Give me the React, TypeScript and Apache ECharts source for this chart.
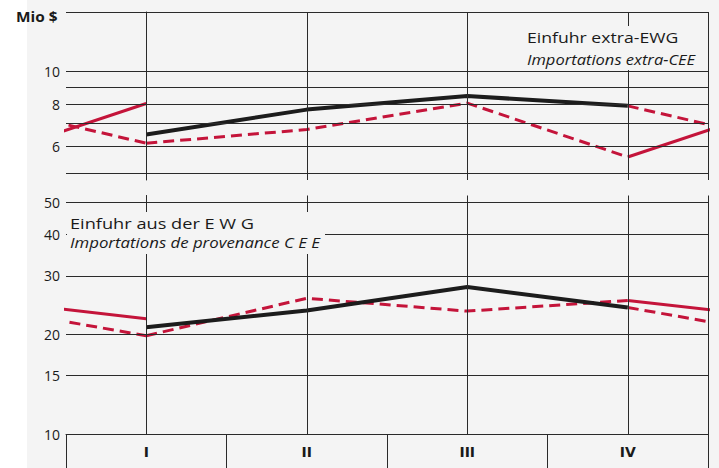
import React, { useEffect, useRef } from "react";
import * as echarts from "echarts";

// Quarter labels
const QUARTERS = ["I", "II", "III", "IV"];
// Upper panel: Einfuhr extra-EWG (Mio $), log scale
const TOP_YEAR1 = [6.5, 7.7, 8.45, 7.9]; // black solid
const TOP_YEAR2 = [6.12, 6.72, 8.05, 5.57]; // red dashed
const TOP_YEAR3 = [8.03]; // red solid (Q1 only)
// Lower panel: Einfuhr aus der EWG (Mio $), log scale
const BOTTOM_YEAR1 = [21.0, 23.6, 27.8, 24.1];
const BOTTOM_YEAR2 = [19.8, 25.7, 23.5, 25.3];
const BOTTOM_YEAR3 = [22.3];
// Gridlines and tick labels
const TOP_GRID_VALUES = [5, 6, 7, 8, 9, 10, 15];
const TOP_TICK_LABELS = [6, 8, 10];
const BOTTOM_GRID_VALUES = [10, 15, 20, 30, 40, 50];
const BOTTOM_TICK_LABELS = [10, 15, 20, 30, 40, 50];
const VERTICAL_LINES = [0, 1, 2, 3, 3.5];

const RED = "#c4143a";
const BLACK = "#1c1c1c";
const GRIDC = "#2a2a2a";
const BG = "#f4f4f4";
const FONT = "Open Sans";

function panelSeries(idx: number, y1: number[], y2: number[], y3: number[], gridVals: number[], labelVals: number[]) {
  const ax = { xAxisIndex: idx === 0 ? 0 : 2, yAxisIndex: idx };
  const lastQ = y1.length - 1;
  const lastQ2 = y2.length - 1;
  const dashed = { color: RED, width: 3, type: [11, 6] as any };
  const solidRed = { color: RED, width: 3, type: "solid" as const };
  const mk = (name: string, data: number[][], lineStyle: any, z: number) => ({
    name,
    type: "line",
    ...ax,
    data,
    showSymbol: false,
    symbol: "none",
    clip: true,
    lineStyle,
    z,
    silent: true,
  });
  return [
    {
      name: "grid" + idx,
      type: "line",
      ...ax,
      data: [[0, y1[0]]],
      showSymbol: false,
      symbol: "none",
      lineStyle: { width: 0, opacity: 0 },
      z: 1,
      silent: true,
      markLine: {
        silent: true,
        symbol: ["none", "none"],
        animation: false,
        lineStyle: { color: GRIDC, width: 1, type: "solid" },
        label: { show: false },
        data: [
          ...gridVals.map((v) => ({
            yAxis: v,
            label: labelVals.includes(v)
              ? {
                  show: true,
                  position: "start",
                  formatter: String(v),
                  color: "#1a1a1a",
                  fontSize: 14,
                  fontFamily: FONT,
                  distance: 6,
                }
              : { show: false },
          })),
          ...VERTICAL_LINES.map((x) => ({ xAxis: x, label: { show: false } })),
        ],
      },
    },
    mk("y2" + idx, y2.map((v, i) => [i, v]), dashed, 2),
    mk("t12a" + idx, [[-1, y1[lastQ]], [0, y2[0]]], dashed, 2),
    mk("t12b" + idx, [[lastQ, y1[lastQ]], [lastQ + 1, y2[0]]], dashed, 2),
    mk("t23a" + idx, [[-1, y2[lastQ2]], [0, y3[0]]], solidRed, 2),
    mk("t23b" + idx, [[lastQ2, y2[lastQ2]], [lastQ2 + 1, y3[0]]], solidRed, 2),
    mk("y1" + idx, y1.map((v, i) => [i, v]), { color: BLACK, width: 4, type: "solid" }, 3),
  ];
}

function label(text: string, x: number, y: number, scaleX: number, italic: boolean) {
  return {
    type: "text",
    x,
    y,
    z: 60,
    scaleX,
    silent: true,
    style: {
      text,
      fontSize: 14,
      fontStyle: italic ? "italic" : "normal",
      fontFamily: FONT,
      fill: "#1a1a1a",
      textVerticalAlign: "middle",
      verticalAlign: "middle",
    },
  };
}

export default function App() {
  const ref = useRef<HTMLDivElement>(null);
  useEffect(() => {
    if (!ref.current) return;
    const chart = echarts.init(ref.current, undefined, { renderer: "svg" });
    const hiddenX = {
      type: "value",
      min: -0.5,
      max: 3.5,
      show: false,
      splitLine: { show: false },
    };
    const option: any = {
      animation: false,
      backgroundColor: BG,
      grid: [
        { left: 66, top: 12, width: 642, height: 168 },
        { left: 66, top: 195.5, width: 642, height: 238.5 },
      ],
      xAxis: [
        { ...hiddenX, gridIndex: 0 },
        {
          type: "category",
          gridIndex: 1,
          position: "bottom",
          data: QUARTERS,
          boundaryGap: true,
          axisLine: { show: true, lineStyle: { color: GRIDC, width: 1 } },
          axisTick: { show: true, length: 36, inside: false, lineStyle: { color: GRIDC, width: 1 } },
          axisLabel: { show: true, margin: 11, fontSize: 14, fontWeight: "bold", color: "#1a1a1a", fontFamily: "DejaVu Sans" },
          splitLine: { show: false },
        },
        { ...hiddenX, gridIndex: 1 },
      ],
      yAxis: [
        {
          type: "log",
          logBase: 10,
          gridIndex: 0,
          min: 4.76,
          max: 15,
          axisLine: { show: true, lineStyle: { color: GRIDC, width: 1 } },
          axisTick: { show: false },
          axisLabel: { show: false },
          splitLine: { show: false },
        },
        {
          type: "log",
          logBase: 10,
          gridIndex: 1,
          min: 10,
          max: 52.5,
          axisLine: { show: true, lineStyle: { color: GRIDC, width: 1 } },
          axisTick: { show: false },
          axisLabel: { show: false },
          splitLine: { show: false },
        },
      ],
      series: [
        ...panelSeries(0, TOP_YEAR1, TOP_YEAR2, TOP_YEAR3, TOP_GRID_VALUES, TOP_TICK_LABELS),
        ...panelSeries(1, BOTTOM_YEAR1, BOTTOM_YEAR2, BOTTOM_YEAR3, BOTTOM_GRID_VALUES, BOTTOM_TICK_LABELS),
      ],
      graphic: [
        { type: "rect", shape: { x: 0, y: 0, width: 27, height: 468 }, style: { fill: "#ffffff" }, z: 0, silent: true },
        {
          type: "text",
          x: 16,
          y: 16,
          z: 60,
          scaleX: 1.1,
          style: { text: "Mio $", fontSize: 14, fontWeight: "bold", fontFamily: FONT, fill: "#1a1a1a", textVerticalAlign: "middle", verticalAlign: "middle" },
        },
        { type: "rect", shape: { x: 508, y: 26, width: 197, height: 44 }, style: { fill: BG }, z: 50, silent: true },
        label("Einfuhr extra-EWG", 527, 37.5, 1.26, false),
        label("Importations extra-CEE", 527, 60, 1.18, true),
        { type: "rect", shape: { x: 67, y: 212, width: 258, height: 42 }, style: { fill: BG }, z: 50, silent: true },
        label("Einfuhr aus der E W G", 70, 223.5, 1.3, false),
        label("Importations de provenance C E E", 70, 242.5, 1.2, true),
      ],
    };
    chart.setOption(option);
    return () => chart.dispose();
  }, []);
  return <div ref={ref} style={{ position: "absolute", left: 0, top: 0, width: 719, height: 468 }} />;
}
